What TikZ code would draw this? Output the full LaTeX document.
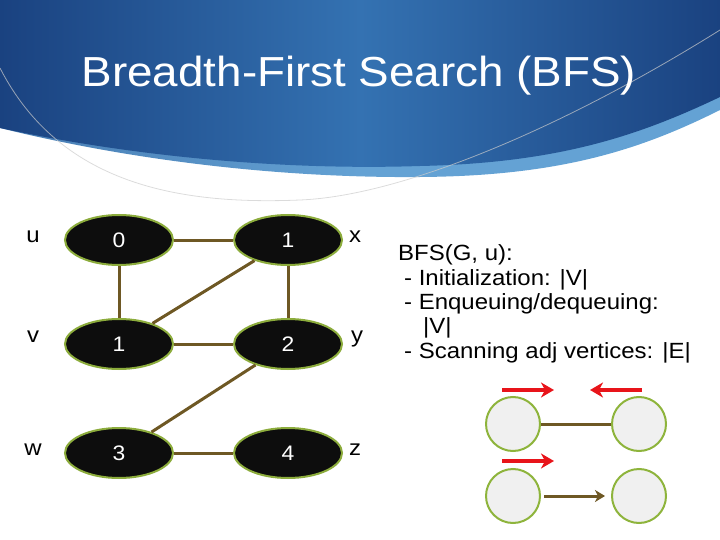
\documentclass[tikz,border=0pt]{standalone}
\usepackage{fontspec}
\setmainfont{Liberation Sans}[FakeStretch=1.09]
\usetikzlibrary{
  arrows.meta,
  shapes.geometric
}
\definecolor{hdrdark}{RGB}{26,66,128}
\definecolor{hdrmid}{RGB}{52,114,178}
\definecolor{hdrlight}{RGB}{100,162,212}
\definecolor{vertexrim}{RGB}{140,172,60}
\definecolor{linkbrown}{RGB}{110,88,36}
\definecolor{pushred}{RGB}{232,20,26}
\definecolor{ballfill}{RGB}{240,240,240}
\definecolor{ballrim}{RGB}{142,180,60}
\tikzset{
  % For the slide title.
  title/.style={
    anchor=base,
    text=white,
    font=\fontsize{42}{42}\selectfont},
%
  % For the graph vertices.
  vertex/.style={
    ellipse,
    draw=vertexrim,
    line width=2pt,
    fill=black!95,
    text=white,
    minimum width=108pt,
    minimum height=50pt,
    inner sep=0pt,
    font=\fontsize{21}{21}\selectfont},
%
  % For the vertex names beside them.
  vertex name/.style={
    anchor=base,
    font=\fontsize{22}{22}\selectfont},
%
  % For graph edges.
  link/.style={
    draw=linkbrown,
    line width=3pt},
%
  % For the cost notes.
  note/.style={
    anchor=base west,
    inner sep=0pt,
    font=\fontsize{22}{22}\selectfont},
%
  % For the small sketch vertices.
  ball/.style={
    circle,
    draw=ballrim,
    line width=2pt,
    fill=ballfill,
    minimum size=54pt,
    inner sep=0pt},
%
  % For the sketch edges.
  thin link/.style={
    draw=linkbrown,
    line width=3pt},
%
  % For the scanning arrows.
  push arrow/.style={
    draw=pushred,
    line width=4pt,
    -{Stealth[length=13pt,width=15pt,inset=4pt]}},
}

\begin{document}
\begin{tikzpicture}[x=1pt,y=-1pt]
  \useasboundingbox (0,0) rectangle (720,540);

  % Header swoosh: light band first, the dark part on top of it.
  \shade[left color=hdrlight!60!hdrdark, right color=hdrlight, middle color=hdrlight]
    (0,0) -- (720,0) -- (720,110)
    .. controls (640,150) and (560,176) .. (420,177)
    .. controls (300,178) and (150,165) .. (0,128) -- cycle;
  \shade[left color=hdrdark, right color=hdrdark, middle color=hdrmid]
    (0,0) -- (720,0) -- (720,97)
    .. controls (640,135) and (560,163) .. (420,166)
    .. controls (300,170) and (150,160) .. (0,128) -- cycle;
  \draw[gray!40, line width=0.8pt, opacity=0.7]
    (0,68) .. controls (60,185) and (180,205) .. (300,200)
    .. controls (400,196) and (560,130) .. (720,30);

  \node[title] (T) at (359,87) {Breadth-First Search (BFS)};

  % The graph.
  \node[vertex] (U) at (119,240) {0};
  \node[vertex] (X) at (288,240) {1};
  \node[vertex] (V) at (119,344) {1};
  \node[vertex] (Y) at (288,344) {2};
  \node[vertex] (W) at (119,453) {3};
  \node[vertex] (Z) at (288,453) {4};

  \draw[link] (U) -- (X);
  \draw[link] (U) -- (V);
  \draw[link] (X) -- (Y);
  \draw[link] (V) -- (X);
  \draw[link] (V) -- (Y);
  \draw[link] (Y) -- (W);
  \draw[link] (W) -- (Z);

  \node[vertex name] (u) at (33,243) {u};
  \node[vertex name] (x) at (355,243) {x};
  \node[vertex name] (v) at (33,342) {v};
  \node[vertex name] (y) at (357,342) {y};
  \node[vertex name] (w) at (33,455) {w};
  \node[vertex name] (z) at (355,455) {z};

  % Costs.
  \node[note] (L1) at (398,260) {BFS(G, u):};
  \node[note] (L2) at (404,285) {- Initialization: |V|};
  \node[note] (L3) at (404,309) {- Enqueuing/dequeuing:};
  \node[note] (L4) at (423,333) {|V|};
  \node[note] (L5) at (404,358) {- Scanning adj vertices: |E|};

  % Sketch of an edge scanned from both ends, and of an arc.
  \node[ball] (P) at (513,424) {};
  \node[ball] (Q) at (639,424) {};
  \node[ball] (R) at (513,496) {};
  \node[ball] (S) at (639,496) {};

  \draw[thin link] (P) -- (Q);
  \draw[thin link, shorten <=3pt, shorten >=6pt,
        -{Stealth[length=10pt,width=12pt,inset=3pt]}] (R) -- (S);

  \coordinate (A1) at (502,390);
  \coordinate (A2) at (554,390);
  \coordinate (B1) at (642,390);
  \coordinate (B2) at (590,390);
  \coordinate (C1) at (502,461);
  \coordinate (C2) at (554,461);

  \draw[push arrow] (A1) -- (A2);
  \draw[push arrow] (B1) -- (B2);
  \draw[push arrow] (C1) -- (C2);
\end{tikzpicture}
\end{document}
